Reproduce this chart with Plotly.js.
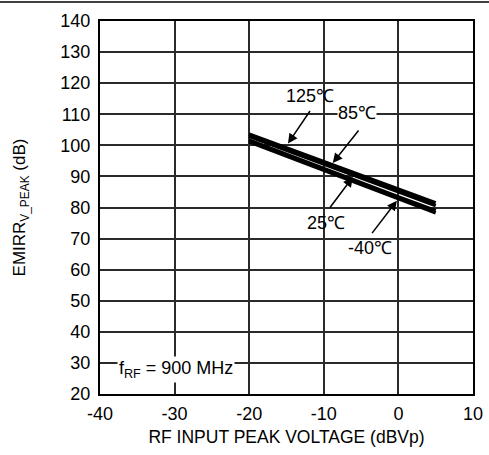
<!DOCTYPE html>
<html><head><meta charset="utf-8">
<script src="https://cdn.plot.ly/plotly-3.0.1.min.js"></script>
<style>body{margin:0;padding:0;background:#fff}#chart{width:489px;height:455px}</style>
</head><body><div id="chart"></div>
<script>
const inputVoltage = [-20, -10, 0, 5];
const emirr125 = [103.6, 94.8, 85.9, 81.5];
const emirr85 = [102.9, 94.0, 85.1, 80.6];
const emirr25 = [101.7, 92.5, 83.4, 79.0];
const emirrM40 = [101.1, 91.9, 82.8, 78.3];
const seriesNames = ['125℃', '85℃', '25℃', '-40℃'];
const xTicks = [-40, -30, -20, -10, 0, 10];
const yTicks = [20, 30, 40, 50, 60, 70, 80, 90, 100, 110, 120, 130, 140];

const FONT = 'Liberation Sans, Arial, sans-serif';
const all = [emirr125, emirr85, emirr25, emirrM40];
const traces = all.map((ys, i) => ({
  x: inputVoltage, y: ys, type: 'scatter', mode: 'lines', name: seriesNames[i],
  line: {color: '#000', width: 3.5}, showlegend: false, hoverinfo: 'skip'
}));

const tf = {family: FONT, size: 18, color: '#000'};
const arrow = (x, y, ax, ay) => ({x, y, text: '', showarrow: true, arrowhead: 2, arrowsize: 1.3,
  arrowwidth: 1.5, arrowcolor: '#000', ax, ay});
const annotations = [
  {x: -11.9, y: 115.8, text: '125℃', showarrow: false, font: tf},
  {x: -5.6, y: 110.4, text: '85℃', showarrow: false, font: tf, bgcolor: '#fff', borderpad: 0},
  {x: -9.7, y: 75.0, text: '25℃', showarrow: false, font: tf},
  {x: -3.8, y: 66.9, text: '-40℃', showarrow: false, font: tf},
  {x: -29.8, y: 27.9, text: 'f<sub>RF</sub> = 900 MHz', showarrow: false, font: {family: FONT, size: 18, color: '#000'}, bgcolor: '#fff', borderpad: 1},
  arrow(-14.8, 100.6, 23, -34),
  arrow(-8.8, 94.3, 27, -34),
  arrow(-6.1, 89.8, -24, 32),
  arrow(-0.2, 82.2, -26, 34)
];

const layout = {
  width: 489, height: 455,
  margin: {l: 100, r: 16, t: 21, b: 61},
  paper_bgcolor: '#fff', plot_bgcolor: '#fff',
  font: {family: FONT, size: 18, color: '#000'},
  showlegend: false,
  xaxis: {
    range: [-40, 10], tickmode: 'array', tickvals: xTicks, ticktext: xTicks.map(String),
    showgrid: true, gridcolor: '#2a2a2a', gridwidth: 2, zeroline: false,
    showline: true, linecolor: '#000', linewidth: 2, mirror: true, ticks: '',
    tickfont: {family: FONT, size: 18, color: '#000'}, ticklabelstandoff: 2,
    title: {text: 'RF INPUT PEAK VOLTAGE (dBVp)', font: {family: FONT, size: 17.5, color: '#000'}, standoff: 8}
  },
  yaxis: {
    range: [20, 140], tickmode: 'array', tickvals: yTicks, ticktext: yTicks.map(String),
    showgrid: true, gridcolor: '#2a2a2a', gridwidth: 2, zeroline: false,
    showline: true, linecolor: '#000', linewidth: 2, mirror: true, ticks: '',
    tickfont: {family: FONT, size: 18, color: '#000'}, ticklabelstandoff: 4,
    title: {text: 'EMIRR<sub>V_PEAK</sub> (dB)', font: {family: FONT, size: 17, color: '#000'}, standoff: 30}
  },
  annotations: annotations,
  shapes: [
    {type: 'line', xref: 'paper', yref: 'paper', x0: -0.3, x1: 1.1, y0: 1.051, y1: 1.051, line: {color: '#000', width: 1.5}}
  ]
};

Plotly.newPlot('chart', traces, layout, {displayModeBar: false, staticPlot: true});
</script>
</body></html>
